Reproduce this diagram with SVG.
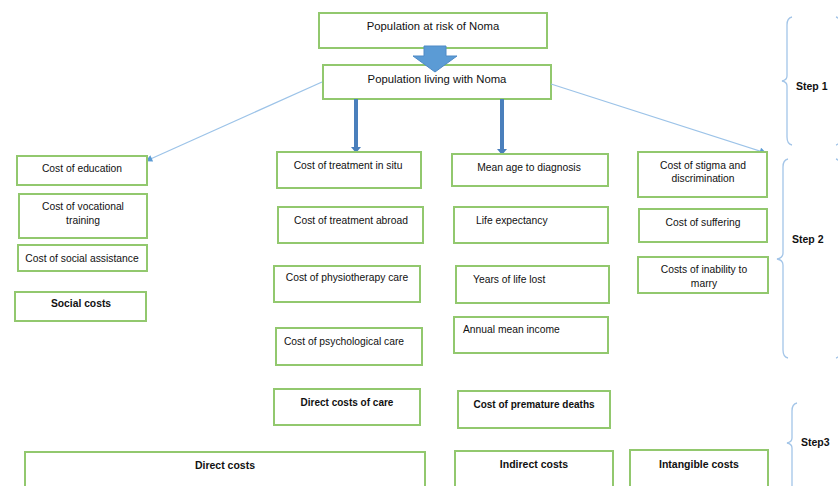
<svg xmlns="http://www.w3.org/2000/svg" width="838" height="486" viewBox="0 0 838 486">
<defs>
<style>
.box{fill:#fff;stroke:#92c86e;stroke-width:2}
.t{font-family:"Liberation Sans",Arial,sans-serif;font-size:10.3px;fill:#111}
.c{text-anchor:middle}
.b{font-weight:bold}
.thin{stroke:#9cc3e8;stroke-width:1.2;fill:none}
.thick{stroke:#4a7fbc;stroke-width:4;fill:none}
.brace{stroke:#a3c5e8;stroke-width:1.3;fill:none}
</style>
<marker id="ah" viewBox="0 0 10 10" refX="9" refY="5" markerWidth="8" markerHeight="7" markerUnits="userSpaceOnUse" orient="auto">
<path d="M0,0 L10,5 L0,10 z" fill="#5b9bd5"/>
</marker>
</defs>

<g id="n-risk"><rect class="box" x="319" y="13" width="228" height="35"/><text class="t c" x="433" y="30" style="font-size:11.3px">Population at risk of Noma</text></g>

<g id="n-living"><rect class="box" x="323" y="65" width="228" height="34"/><text class="t c" x="437" y="83" style="font-size:11.3px">Population living with Noma</text></g>

<g id="connectors">
<path d="M424,46 H446 V56 H457 L435,72 L413,56 H424 Z" fill="#5b9bd5" stroke="#4f8ac6" stroke-width="1"/>
<line class="thick" x1="356" y1="99" x2="356" y2="148"/>
<path d="M351,147 L361,147 L356,153 Z" fill="#4a7fbc"/>
<line class="thick" x1="502" y1="99" x2="502" y2="150"/>
<path d="M497,149 L507,149 L502,155 Z" fill="#4a7fbc"/>
<line class="thin" x1="322" y1="82" x2="146" y2="161" marker-end="url(#ah)"/>
<line class="thin" x1="551" y1="84" x2="766" y2="153" marker-end="url(#ah)"/>
</g>

<g id="n-education"><rect class="box" x="17" y="156" width="130" height="29"/><text class="t c" x="82" y="172">Cost of education</text></g>
<g id="n-vocational"><rect class="box" x="19" y="194" width="128" height="44"/><text class="t c" x="83" y="210">Cost of vocational</text><text class="t c" x="83" y="224">training</text></g>
<g id="n-social-assistance"><rect class="box" x="18" y="245" width="129" height="26"/><text class="t c" x="82" y="262">Cost of social assistance</text></g>
<g id="n-social-costs"><rect class="box" x="15" y="292" width="131" height="29"/><text class="t c b" x="81" y="307">Social costs</text></g>

<g id="n-situ"><rect class="box" x="277" y="152" width="144" height="36"/><text class="t c" x="348" y="169">Cost of treatment in situ</text></g>
<g id="n-abroad"><rect class="box" x="278" y="207" width="145" height="36"/><text class="t c" x="351" y="224">Cost of treatment abroad</text></g>
<g id="n-physio"><rect class="box" x="274" y="266" width="146" height="36"/><text class="t c" x="347" y="281">Cost of physiotherapy care</text></g>
<g id="n-psych"><rect class="box" x="276" y="328" width="146" height="37"/><text class="t c" x="344" y="345">Cost of psychological care</text></g>
<g id="n-direct-care"><rect class="box" x="274" y="389" width="146" height="36"/><text class="t c b" x="347" y="406" style="font-size:10px">Direct costs of care</text></g>

<g id="n-mean-age"><rect class="box" x="452" y="154" width="156" height="32"/><text class="t c" x="529" y="171">Mean age to diagnosis</text></g>
<g id="n-life"><rect class="box" x="454" y="207" width="154" height="36"/><text class="t" x="476" y="224">Life expectancy</text></g>
<g id="n-years"><rect class="box" x="456" y="266" width="153" height="37"/><text class="t" x="473" y="283">Years of life lost</text></g>
<g id="n-income"><rect class="box" x="454" y="317" width="154" height="36"/><text class="t" x="463" y="333">Annual mean income</text></g>
<g id="n-premature"><rect class="box" x="458" y="391" width="152" height="37"/><text class="t c b" x="534" y="408" style="font-size:10px">Cost of premature deaths</text></g>

<g id="n-stigma"><rect class="box" x="638" y="152" width="129" height="45"/><text class="t c" x="703" y="169">Cost of stigma and</text><text class="t c" x="703" y="182">discrimination</text></g>
<g id="n-suffering"><rect class="box" x="639" y="209" width="128" height="33"/><text class="t c" x="703" y="226">Cost of suffering</text></g>
<g id="n-marry"><rect class="box" x="638" y="257" width="130" height="36"/><text class="t c" x="704" y="273">Costs of inability to</text><text class="t c" x="704" y="287">marry</text></g>

<g id="n-direct"><rect class="box" x="25" y="452" width="400" height="40"/><text class="t c b" x="225" y="469" style="font-size:10.5px">Direct costs</text></g>
<g id="n-indirect"><rect class="box" x="455" y="451" width="158" height="40"/><text class="t c b" x="534" y="468" style="font-size:10.5px">Indirect costs</text></g>
<g id="n-intangible"><rect class="box" x="630" y="450" width="138" height="40"/><text class="t c b" x="699" y="468" style="font-size:10.5px">Intangible costs</text></g>

<g id="step1">
<path class="brace" d="M792,17 Q787,18 787,25 V76 Q787,80 782,81 Q787,82 787,86 V137 Q787,144 792,145"/>
<path class="brace" d="M836,17 Q840,18 840,25 M840,137 Q840,144 836,145"/>
<text class="t b" x="796" y="90" style="font-size:10.5px">Step 1</text>
</g>
<g id="step2">
<path class="brace" d="M788,159 Q783,160 783,167 V253 Q783,258 777,259 Q783,260 783,265 V350 Q783,357 788,358"/>
<path class="brace" d="M836,159 Q840,160 840,167 M840,350 Q840,357 836,358"/>
<text class="t b" x="792" y="243" style="font-size:10.5px">Step 2</text>
</g>
<g id="step3">
<path class="brace" d="M797,403 Q792,404 792,411 V438 Q792,442 787,443 Q792,444 792,448 V490"/>
<text class="t b" x="801" y="446" style="font-size:10.5px">Step3</text>
</g>
</svg>
